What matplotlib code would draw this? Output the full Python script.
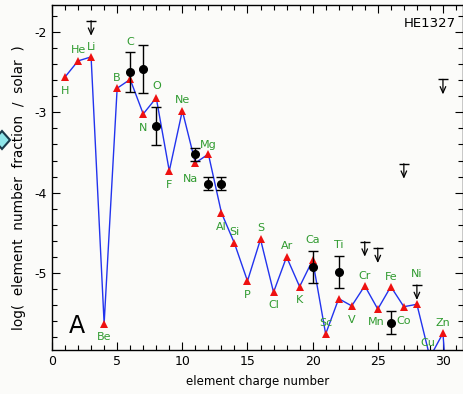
import matplotlib
matplotlib.use("Agg")
import matplotlib.pyplot as plt
from matplotlib.patches import Polygon
from matplotlib.ticker import MultipleLocator

# ---------------- data ----------------
elements = ["H", "He", "Li", "Be", "B", "C", "N", "O", "F", "Ne", "Na", "Mg", "Al", "Si",
            "P", "S", "Cl", "Ar", "K", "Ca", "Sc", "Ti", "V", "Cr", "Mn", "Fe", "Co", "Ni",
            "Cu", "Zn", "Ga"]
model_z = list(range(1, 32))
model_vals = [-2.56, -2.36, -2.31, -5.63, -2.70, -2.59, -3.02, -2.82, -3.73, -2.98,
              -3.63, -3.52, -4.25, -4.63, -5.10, -4.58, -5.24, -4.80, -5.17, -4.84,
              -5.76, -5.32, -5.41, -5.16, -5.45, -5.17, -5.42, -5.39, -6.05, -5.75, -8.0]

obs_z = [6, 7, 8, 11, 12, 13, 20, 22, 26]
obs_vals = [-2.50, -2.46, -3.17, -3.52, -3.89, -3.89, -4.93, -4.99, -5.62]
obs_err = [0.245, 0.30, 0.24, 0.08, 0.08, 0.08, 0.20, 0.20, 0.145]

lim_z = [3, 24, 25, 27, 28, 30]
lim_vals = [-1.86, -4.61, -4.69, -3.64, -5.15, -2.59]

# label offsets (pixels) relative to model points, layout only
label_dx = [0, 0, 0, 0, 0, 0, 0, 0, 0, 0, -5, 0, 0, 0,
            0, 0, 0, 0, 0, 0, 0, 0, 0, 0, -2, 0, 0, 0,
            0, 0, 0]
label_dy = [-14, 11, 10, -13, 10, 37, -14, 12, -14, 11, -16, 9, -14, 11,
            -14, 11, -13, 11, -13, 20, 11, 54, -14, 10, -13, 10, -14, 30,
            0, 10, 0]

fig = plt.figure(figsize=(4.63, 3.94), dpi=100)
fig.patch.set_facecolor("#fbfbf9")
ax = fig.add_axes([52 / 463, 1 - 350 / 394, 410.5 / 463, 345 / 394])
ax.set_facecolor("#fbfbf9")

ax.set_xlim(0, 31.5)
ax.set_ylim(-5.959, -1.664)

green = "#2f9a2f"

ax.plot(model_z, model_vals, color="#2233ee", lw=1.0, zorder=2)
ax.plot(model_z, model_vals, ls="none", marker="^", color="#ee1111", ms=6,
        markeredgewidth=0, zorder=3)

ax.errorbar(obs_z, obs_vals, yerr=obs_err, fmt="o", color="black", ms=5.5,
            elinewidth=1.0, capsize=3.5, capthick=1.0, zorder=4)

for z, v in zip(lim_z, lim_vals):
    ax.plot([z], [v], marker="_", color="black", ms=7, mew=1.0, zorder=4)
    ax.annotate("", xy=(z, v), xytext=(0, -15), textcoords="offset pixels",
                arrowprops=dict(arrowstyle="<-,head_length=0.45,head_width=0.2",
                                color="black", lw=0.9, shrinkA=0, shrinkB=0),
                zorder=4)

for name, z, v, dx, dy in zip(elements, model_z, model_vals, label_dx, label_dy):
    if name == "Ga":
        continue
    if name == "Cu":
        ax.text(z - 0.15, -5.87, name, color=green, fontsize=8, ha="center", va="center")
        continue
    ax.annotate(name, xy=(z, v), xytext=(dx, dy), textcoords="offset pixels",
                color=green, fontsize=8, ha="center", va="center",
                annotation_clip=False)

ax.text(0.06, 0.07, "A", transform=ax.transAxes, fontsize=17, ha="center", va="center",
        color="black")
ax.text(0.985, 0.945, "HE1327", transform=ax.transAxes, fontsize=9.5, ha="right",
        va="center", color="black")

ax.xaxis.set_major_locator(MultipleLocator(5))
ax.xaxis.set_minor_locator(MultipleLocator(1))
ax.yaxis.set_major_locator(MultipleLocator(1))
ax.yaxis.set_minor_locator(MultipleLocator(0.2))
ax.tick_params(which="both", direction="in", top=True, right=True, labelsize=9,
               width=0.8, colors="black")
ax.tick_params(which="major", length=6)
ax.tick_params(which="minor", length=3.5)
ax.set_yticks([-2, -3, -4, -5])
ax.set_yticklabels(["-2", "-3", "-4", "-5"])
for s in ax.spines.values():
    s.set_linewidth(1.0)

ax.set_xlabel("element charge number", fontsize=8.5, labelpad=5)
ax.set_ylabel("log(  element  number  fraction  /  solar  )", fontsize=9.8)
ax.yaxis.set_label_coords(-0.063, 0.47)

# small artifacts on left edge
fig.patches.append(Polygon([[-6 / 463, 1 - 140 / 394], [2 / 463, 1 - 131 / 394],
                            [10 / 463, 1 - 140 / 394], [2 / 463, 1 - 149 / 394]],
                           closed=True, transform=fig.transFigure, facecolor="#8fe6ea",
                           edgecolor="#1a3a4a", lw=1.5))
fig.text(10 / 463, 1 - 187 / 394, ".", fontsize=6, color="#333333", ha="center", va="center")

fig.savefig("out.png", dpi=100, facecolor=fig.get_facecolor())
